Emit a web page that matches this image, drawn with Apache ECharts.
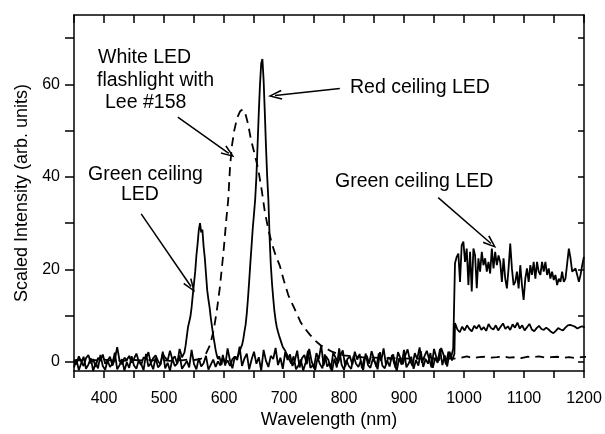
<!DOCTYPE html>
<html lang="en">

<head>
    <meta charset="UTF-8">
    <title>LED spectra</title>
    <script src="https://cdn.jsdelivr.net/npm/echarts@6/dist/echarts.min.js"></script>
    <style>
        * {
            margin: 0;
            padding: 0;
        }

        #main {
            width: 605px;
            height: 434px;
            background: #fff;
        }
    </style>
</head>

<body>
    <div id="main"></div>
    <script>
        // axis ticks / labels
        var xTicks = [350, 400, 450, 500, 550, 600, 650, 700, 750, 800, 850, 900, 950, 1000, 1050, 1100, 1150, 1200];
        var xTickLabels = [400, 500, 600, 700, 800, 900, 1000, 1100, 1200];
        var yTicks = [0, 10, 20, 30, 40, 50, 60, 70];
        var yTickLabels = [0, 20, 40, 60];

        // Green ceiling LED (solid), segment by segment
        var greenNoiseA = [0.4, -0.6, 1.2, 0.1, -0.9, 0.8, 1.5, -0.3, 0.6, -1.1,
            0.9, 0.2, 1.6, -0.4, 0.3, 1.1, -0.8, 0.5, 3.2, 0.2,
            -0.5, 0.9, 0.4, 1.3, -0.2, 0.7, 1.8, 0.1, -0.7, 1.0,
            0.6, 2.1, -0.3, 0.8, 1.4, 0.2, -0.6, 1.7, 0.9, 0.3,
            2.4, 0.5, 1.2, -0.4, 2.8, 1.0];                       // 350..530 step 4
        var greenPeak = [0.8, 2.0, 3.5, 5.5, 7.5, 8.6, 9.8, 11.8, 14.5, 17.0,
            19.5, 23.0, 25.5, 28.5, 30.0, 28.0, 28.6, 25.0, 22.5, 19.0,
            15.5, 13.5, 11.8, 9.5, 7.6, 5.8, 4.2, 2.6, 1.4, 0.6,
            1.2, 0.3, -0.6];                                      // 532..596 step 2
        var greenNoiseB = [1.5, -0.8, 2.9, 0.3, -1.4, 1.1, 0.4, 3.3, -0.9, 0.7,
            1.8, -1.6, 0.5, 2.2, -0.4, 1.0, -1.9, 2.6, 0.2, -1.1,
            1.3, 0.6, 3.0, -0.7, 0.9, -1.5, 2.1, 0.4, 1.6, -0.9,
            0.3, 2.4, -1.2, 0.8, 1.5, -0.5, 2.8, 0.1, -1.3, 1.9,
            0.6, 3.6, -0.8, 1.2, 0.4, -1.6, 2.0, 0.9, -0.3, 1.4,
            2.5, -1.0, 0.7, 1.1, -0.6, 2.2, 0.5, 1.7, -1.4, 0.9,
            1.3, -0.4, 2.3, 0.6, -1.1, 1.8, 0.2, 2.9, -0.7, 1.0,
            0.4, 1.6, -1.3, 2.1, 0.8, -0.5, 1.4, 2.7, 0.3, -0.9,
            1.9, 0.6, 3.1, -0.2, 1.2, 2.4, 0.5, -1.2, 2.8, 1.0,
            0.2, 3.0, 1.5, -0.6, 2.2, 0.7, 2.9];                 // 598..982 step 4
        var greenNir = [21.3, 22.7, 23.4, 17.3, 25.2, 26, 21.6, 24.5, 16.6, 23.8,
            15.2, 24.5, 23, 15.9, 22.4, 19.5, 23.8, 20.9, 22.4, 19.5,
            21.6, 19.1, 24.5, 20.2, 23.8, 20.9, 23, 21.6, 17.3, 22.4,
            18, 15.9, 20.2, 25.6, 20.2, 16.6, 17.3, 19.5, 15.9, 20.9,
            16.6, 13.4, 18, 20.2, 17.3, 20.9, 18.8, 21.6, 18, 21.6,
            19.5, 18.8, 21.6, 19.5, 21.6, 18.8, 20.2, 18, 19.5, 17.7,
            18.8, 16.6, 18, 17.3, 19.5, 17.3, 18, 18, 24.5, 22.4,
            19.5, 19.5, 20.2, 18.8, 17.3, 18.8, 20.9, 22.7];      // 985..1200 step 2.79

        // Red ceiling LED (solid)
        var redNoiseA = [-1.2, 0.5, -1.8, -0.3, 1.1, -1.5, -0.6, 0.8, -2.0, -0.2,
            -1.4, 1.5, -0.9, -1.7, 0.3, -1.1, -0.4, 2.0, -1.6, -0.7,
            0.6, -1.9, -0.1, -1.3, 1.2, -0.8, -1.5, 0.4, -0.5, -1.8,
            1.7, -1.0, -0.3, -1.6, 0.9, -1.2, -0.6, 2.2, -1.4, -0.2,
            -1.9, 0.7, -0.9, -0.4, 1.4, -1.5, -0.7, 0.2, -1.2, 2.6,
            -0.5, -1.6, 0.8, -1.0, -0.3, 1.3, -1.7, -0.6, 0.5, -1.1,
            0.1, -0.8, 1.0, -0.4, 0.3, -0.9, 0.6, 1.1, 0.9];       // 350..622 step 4
        var redPeak = [1.5, 2.2, 3.0, 3.6, 4.8, 6.5, 8.0, 10.5, 13.8, 17.5,
            21.5, 25.2, 29.0, 32.0, 35.2, 40.0, 47.0, 54.0, 60.0, 64.5,
            65.5, 61.0, 54.0, 46.5, 40.0, 35.0, 27.0, 21.0, 17.0, 13.8,
            11.0, 9.0, 7.5, 6.5, 5.6, 4.8, 4.0, 3.2, 2.8, 2.4,
            1.8, 1.3, 0.9];                                       // 624..708 step 2
        var redNoiseB = [-0.4, 1.2, -1.6, -0.8, 0.5, -1.9, -0.2, 2.4, -1.3, -0.7,
            -1.8, 0.9, -0.5, -1.4, 1.6, -1.0, -0.3, -2.0, 0.7, -1.2,
            2.9, -0.6, -1.7, 0.4, -0.9, -1.5, 1.3, -0.4, -1.1, 0.2,
            -1.8, 1.8, -0.7, -1.3, 0.6, -0.2, -1.6, 2.1, -0.8, -1.4,
            0.3, -1.0, 1.5, -0.5, -1.9, 0.8, -0.6, 2.6, -1.2, -0.3,
            1.1, -1.5, 0.4, -0.8, 2.3, -1.1, 0.6, -0.4, 1.9, -1.3,
            0.9, -0.2, 2.8, -0.7, 1.4, -1.0, 2.2, 0.3, 1.7];       // 712..984 step 4
        var redNir = [8.4, 7.0, 6.4, 7.6, 6.8, 7.9, 7.1, 6.6, 7.8, 7.2,
            8.0, 6.9, 7.5, 6.7, 8.2, 7.3, 7.0, 7.9, 6.8, 7.6,
            8.3, 7.1, 7.7, 6.9, 8.1, 7.4, 8.5, 7.2, 7.9, 6.8,
            7.5, 8.2, 7.0, 6.6, 7.3, 7.8, 7.1, 6.9, 7.4, 7.0,
            6.5, 6.2, 6.7, 7.3, 7.0, 6.8, 7.4, 7.9, 8.0, 7.8,
            7.6, 7.2, 7.5, 7.7, 7.4];                              // 985..1201 step 4

        // White LED flashlight with Lee #158 (dashed)
        var whiteBase = [0.3, 0.4, 0.2, 0.4, 0.3, 0.5, 0.3, 0.4, 0.2, 0.3,
            0.4, 0.3, 0.5, 0.3, 0.4, 0.3, 0.2, 0.4, 0.3, 0.5, 0.4, 0.6]; // 350..560 step 10
        var whitePeakX = [565, 570, 577, 583, 588, 593, 597, 600, 604, 607,
            610, 613, 617, 622, 627, 631, 635, 640, 645, 650,
            657, 663, 668, 674, 680, 686, 693, 700, 707, 714,
            721, 728, 735, 743, 752, 761, 770, 780, 790, 800,
            815, 830, 850, 870, 890, 910, 930, 950, 970, 984];
        var whitePeakY = [0.9, 1.8, 3.7, 7, 11, 16, 21, 25, 31, 35,
            42, 46.5, 50, 52.8, 54.2, 54.6, 54, 51.5, 48, 45.5,
            41.7, 37, 32.5, 28.5, 25.5, 23, 20.8, 17.5, 14.5, 12.5,
            10.5, 8.5, 7.2, 5.9, 4.6, 3.6, 2.9, 2.2, 1.7, 1.4,
            1.2, 1.0, 0.9, 0.8, 0.8, 0.7, 0.7, 0.7, 0.7, 0.7];
        var whiteNir = [1.1, 0.9, 1.2, 0.8, 1.0, 1.1, 0.9, 1.0, 1.2, 0.9,
            1.0, 0.8, 1.1, 1.0, 1.2, 0.9, 1.0, 1.1, 0.9, 1.0,
            0.8, 1.0, 1.1];                                      // 985..1205 step 10

        // annotation arrows, in data units: [from, to]
        var arrows = [
            [[523, 52.9], [608, 45.1]],
            [[793, 59.1], [685, 57.6]],
            [[462, 32.0], [545, 16.3]],
            [[957, 35.5], [1045, 25.6]]
        ];
        var notes = [
            { text: 'White LED', x: 98, y: 58 },
            { text: 'flashlight with', x: 97, y: 81 },
            { text: 'Lee #158', x: 105, y: 103 },
            { text: 'Red ceiling LED', x: 350, y: 88 },
            { text: 'Green ceiling', x: 88, y: 175 },
            { text: 'LED', x: 121, y: 195 },
            { text: 'Green ceiling LED', x: 335, y: 182 }
        ];

        function seg(start, step, values) {
            return values.map(function (v, i) {
                return [+(start + step * i).toFixed(2), v];
            });
        }
        function pairs(xs, ys) {
            return xs.map(function (x, i) { return [x, ys[i]]; });
        }

        var greenData = seg(350, 4, greenNoiseA).concat(seg(532, 2, greenPeak), seg(598, 4, greenNoiseB), seg(985, 2.79, greenNir));
        var redData = seg(350, 4, redNoiseA).concat(seg(624, 2, redPeak), seg(712, 4, redNoiseB), seg(985, 4, redNir));
        var whiteData = seg(350, 10, whiteBase).concat(pairs(whitePeakX, whitePeakY), seg(985, 10, whiteNir));

        var font = 'Liberation Sans, Arial, Helvetica, sans-serif';
        var black = '#000';
        var arrowHead = 'path://M0,10 L5,0 L10,10 L8.6,10.6 L5,3 L1.4,10.6 Z';

        var chartDom = document.getElementById('main');
        var myChart = echarts.init(chartDom);

        function spectrum(name, data, dashed) {
            return {
                name: name,
                type: 'line',
                data: data,
                showSymbol: false,
                symbol: 'none',
                silent: true,
                lineStyle: {
                    color: black,
                    width: 1.8,
                    type: dashed ? [9, 6] : 'solid'
                }
            };
        }

        var plain = function (v) { return String(v); };

        var option = {
            animation: false,
            backgroundColor: '#fff',
            grid: { left: 74, right: 21, top: 15, bottom: 61 },
            xAxis: [{
                type: 'value',
                min: 350,
                max: 1200,
                position: 'bottom',
                name: 'Wavelength (nm)',
                nameLocation: 'middle',
                nameGap: 38,
                nameTextStyle: { color: black, fontSize: 18, fontFamily: font },
                axisLine: { onZero: false, lineStyle: { color: black, width: 1.5 } },
                axisTick: { inside: false, length: 7, customValues: xTicks, lineStyle: { color: black, width: 1.5 } },
                axisLabel: { customValues: xTickLabels, formatter: plain, margin: 19, color: black, fontSize: 16, fontFamily: font },
                splitLine: { show: false }
            }, {
                type: 'value',
                min: 350,
                max: 1200,
                position: 'top',
                axisLine: { onZero: false, lineStyle: { color: black, width: 1.5 } },
                axisTick: { inside: true, length: 8, customValues: xTicks, lineStyle: { color: black, width: 1.5 } },
                axisLabel: { show: false },
                splitLine: { show: false }
            }],
            yAxis: [{
                type: 'value',
                min: -2,
                max: 75,
                position: 'left',
                name: 'Scaled Intensity (arb. units)',
                nameLocation: 'middle',
                nameGap: 43,
                nameTextStyle: { color: black, fontSize: 18, fontFamily: font },
                axisLine: { show: true, onZero: false, lineStyle: { color: black, width: 1.5 } },
                axisTick: { show: true, inside: false, length: 9, customValues: yTicks, lineStyle: { color: black, width: 1.5 } },
                axisLabel: { customValues: yTickLabels, formatter: plain, margin: 14, color: black, fontSize: 16, fontFamily: font },
                splitLine: { show: false }
            }, {
                type: 'value',
                min: -2,
                max: 75,
                position: 'right',
                axisLine: { show: true, onZero: false, lineStyle: { color: black, width: 1.5 } },
                axisTick: { show: true, inside: true, length: 6, customValues: yTicks, lineStyle: { color: black, width: 1.5 } },
                axisLabel: { show: false },
                splitLine: { show: false }
            }],
            graphic: notes.map(function (n) {
                return {
                    type: 'text',
                    x: n.x,
                    y: n.y,
                    silent: true,
                    style: {
                        text: n.text,
                        fill: black,
                        font: '19.5px ' + font,
                        align: 'left',
                        verticalAlign: 'middle'
                    }
                };
            }),
            series: [
                spectrum('Green ceiling LED', greenData, false),
                spectrum('Red ceiling LED', redData, false),
                spectrum('White LED flashlight with Lee #158', whiteData, true),
                {
                    name: 'arrows',
                    type: 'line',
                    data: [],
                    silent: true,
                    markLine: {
                        silent: true,
                        animation: false,
                        symbol: ['none', arrowHead],
                        symbolSize: [10, 14],
                        label: { show: false },
                        emphasis: { disabled: true },
                        lineStyle: { color: black, width: 1.5, type: 'solid' },
                        data: arrows.map(function (a) {
                            return [{ coord: a[0] }, { coord: a[1] }];
                        })
                    }
                }
            ]
        };
        myChart.setOption(option);
    </script>
</body>

</html>
